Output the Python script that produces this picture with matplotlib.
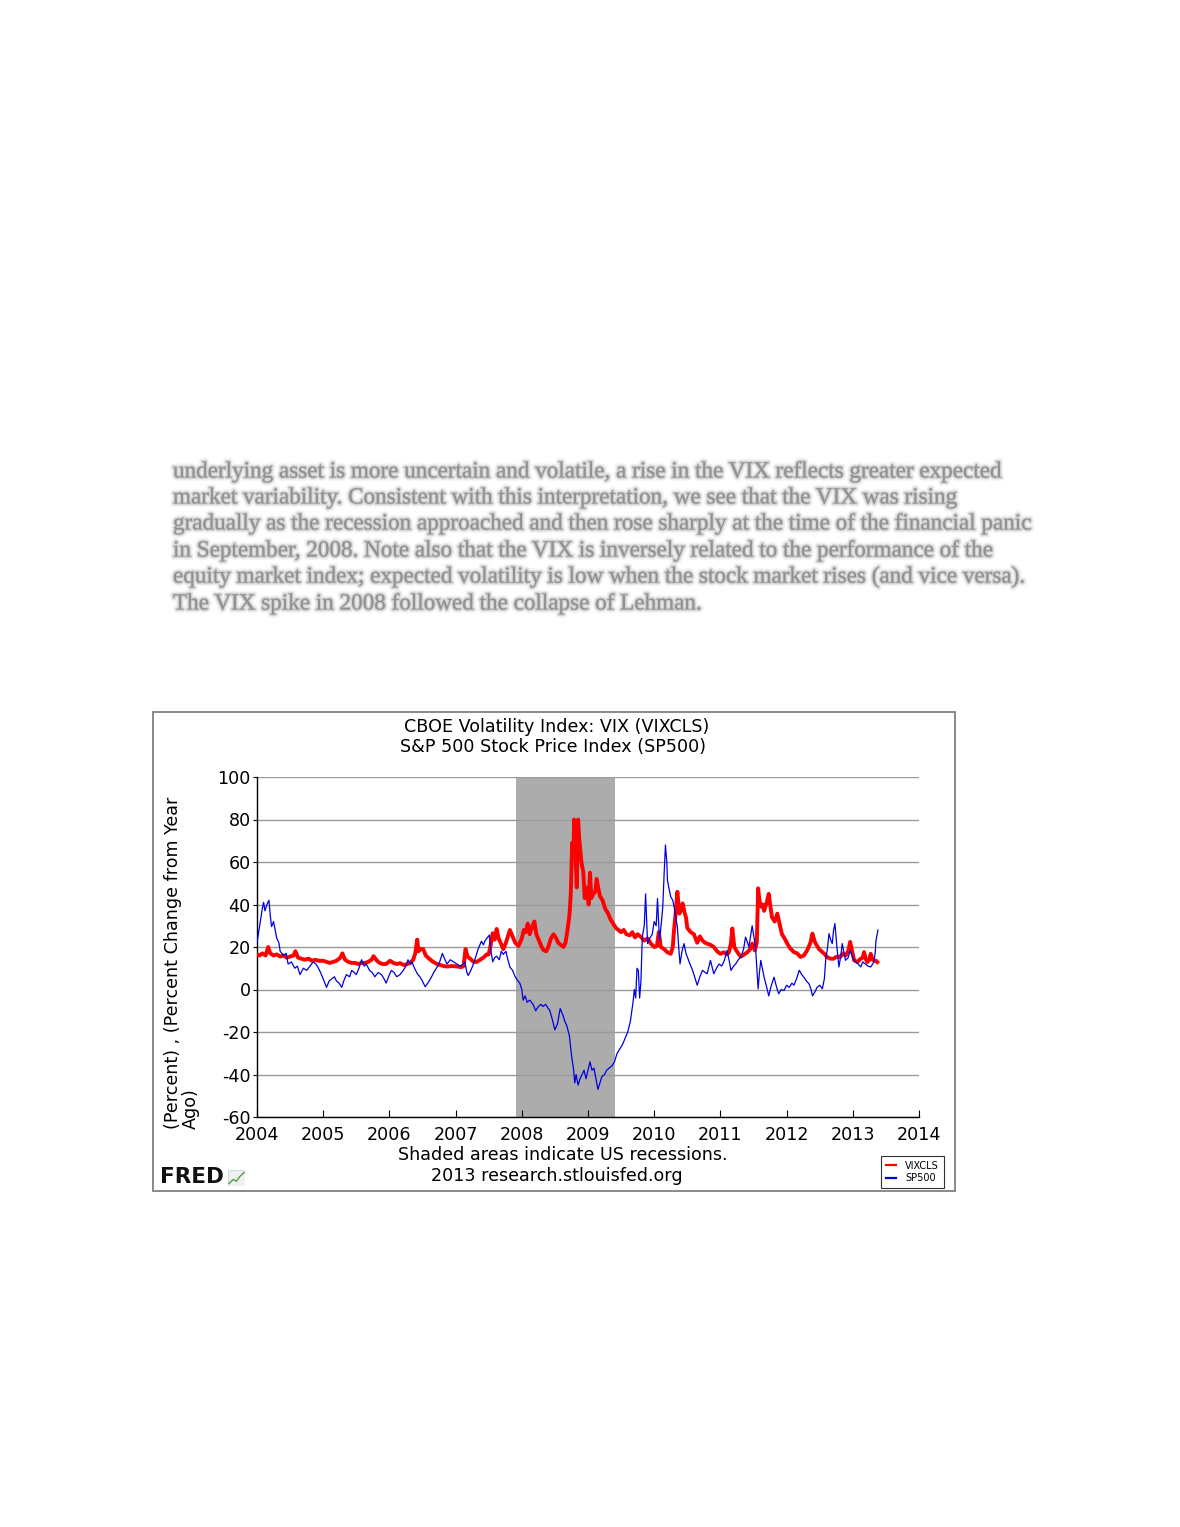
import matplotlib
matplotlib.use("Agg")
import matplotlib.pyplot as plt
import matplotlib.patheffects as pe
from matplotlib.patches import Rectangle

# ---------------- data ----------------
vix_t = [2004.00, 2004.04, 2004.08, 2004.13, 2004.17, 2004.20, 2004.25, 2004.30, 2004.35, 2004.40,
         2004.45, 2004.50, 2004.55, 2004.58, 2004.62, 2004.67, 2004.72, 2004.78, 2004.83, 2004.88,
         2004.94, 2005.00, 2005.05, 2005.10, 2005.15, 2005.20, 2005.26, 2005.29, 2005.33, 2005.38,
         2005.43, 2005.48, 2005.53, 2005.58, 2005.63, 2005.68, 2005.73, 2005.76, 2005.80, 2005.85,
         2005.90, 2005.95, 2006.01, 2006.06, 2006.11, 2006.16, 2006.22, 2006.27, 2006.31, 2006.36,
         2006.39, 2006.42, 2006.44, 2006.47, 2006.51, 2006.55, 2006.60, 2006.66, 2006.72, 2006.77,
         2006.82, 2006.88, 2006.93, 2006.98, 2007.03, 2007.08, 2007.12, 2007.15, 2007.18, 2007.22,
         2007.27, 2007.32, 2007.37, 2007.42, 2007.47, 2007.50, 2007.53, 2007.56, 2007.59, 2007.62,
         2007.65, 2007.68, 2007.72, 2007.76, 2007.79, 2007.82, 2007.86, 2007.90, 2007.95, 2008.00,
         2008.03, 2008.06, 2008.09, 2008.12, 2008.15, 2008.19, 2008.22, 2008.26, 2008.30, 2008.33,
         2008.37, 2008.40, 2008.44, 2008.48, 2008.52, 2008.55, 2008.59, 2008.63, 2008.66, 2008.69,
         2008.72, 2008.74, 2008.76, 2008.78, 2008.79, 2008.81, 2008.83, 2008.85, 2008.87, 2008.90,
         2008.93, 2008.95, 2008.98, 2009.01, 2009.03, 2009.05, 2009.08, 2009.11, 2009.13, 2009.16,
         2009.18, 2009.22, 2009.26, 2009.30, 2009.34, 2009.38, 2009.42, 2009.46, 2009.50, 2009.54,
         2009.58, 2009.63, 2009.67, 2009.71, 2009.75, 2009.80, 2009.85, 2009.90, 2009.95, 2010.00,
         2010.04, 2010.07, 2010.10, 2010.15, 2010.20, 2010.25, 2010.28, 2010.30, 2010.33, 2010.35,
         2010.38, 2010.41, 2010.43, 2010.46, 2010.48, 2010.50, 2010.55, 2010.60, 2010.65, 2010.69,
         2010.73, 2010.77, 2010.80, 2010.85, 2010.90, 2010.95, 2011.00, 2011.05, 2011.10, 2011.13,
         2011.16, 2011.18, 2011.21, 2011.24, 2011.28, 2011.31, 2011.36, 2011.41, 2011.45, 2011.48,
         2011.52, 2011.55, 2011.57, 2011.59, 2011.61, 2011.64, 2011.66, 2011.70, 2011.73, 2011.76,
         2011.78, 2011.82, 2011.86, 2011.90, 2011.93, 2011.97, 2012.01, 2012.05, 2012.11, 2012.16,
         2012.21, 2012.26, 2012.31, 2012.36, 2012.39, 2012.42, 2012.44, 2012.49, 2012.54, 2012.58,
         2012.61, 2012.66, 2012.71, 2012.76, 2012.81, 2012.85, 2012.89, 2012.93, 2012.96, 2012.99,
         2013.02, 2013.07, 2013.12, 2013.15, 2013.17, 2013.20, 2013.22, 2013.25, 2013.27, 2013.30,
         2013.32, 2013.35, 2013.37]
vix_v = [16.5, 16, 17, 16, 20, 17, 16, 16.5, 15.5, 16,
         15, 15.5, 16, 18, 15, 14.5, 14, 14.5, 13.5, 14,
         13.5, 13.5, 13, 12.5, 13, 13.5, 15, 17, 14, 13,
         12.5, 12.5, 12, 12.5, 12.5, 13, 14, 15.7, 14, 12.5,
         12, 12, 13.5, 12.5, 12, 12.4, 11.5, 12, 12.4, 14,
         17, 23.5, 18, 19, 19, 16, 14.5, 13, 12, 11.5,
         11, 10.8, 11, 11, 10.8, 10.5, 11, 19, 15.5, 14.5,
         13, 13, 14, 15, 16.5, 16.5, 21, 26.5, 23.5, 28.5,
         24, 22, 19, 22, 25, 28, 25, 22, 20.5, 24,
         28, 27, 31, 26, 29, 32, 26, 23, 20, 18.5,
         18, 20, 24, 26, 24, 22, 21, 20, 22, 28,
         35, 45, 69, 62, 80, 65, 48, 80, 70, 60,
         55, 43, 48, 40, 55, 43, 45, 46, 52, 47,
         44, 42, 38, 36, 33, 31, 29, 28, 27, 28,
         26, 25.5, 27, 24.5, 26, 24.7, 23, 24, 21.6, 20,
         20.5, 27, 20, 19, 17.5, 16.8, 20, 28, 38, 46,
         35.7, 38, 40.5, 36, 34, 29, 27, 26, 22, 25,
         23, 22, 21.6, 21, 20, 18, 16.8, 17.5, 16.5, 17.6,
         22, 28.7, 20, 18.4, 16.5, 15.5, 16.5, 17.6, 19, 21.6,
         18.4, 22, 47.6, 42, 39, 40, 37, 41, 45, 38,
         34, 32, 35.7, 30, 26, 24, 21.6, 19.5, 17.6, 17,
         15.3, 16, 18.4, 22, 26.3, 23, 21.6, 19, 17.6, 16.5,
         15.3, 14.5, 14.5, 15.5, 15.3, 17, 16, 18, 22.4, 18,
         13.7, 13, 14.5, 15, 17.6, 14, 12.9, 14, 16.8, 14,
         13.7, 13.5, 12.9]

sp_t = [2004.00, 2004.03, 2004.05, 2004.08, 2004.10, 2004.12, 2004.15, 2004.18, 2004.20, 2004.22,
        2004.25, 2004.28, 2004.30, 2004.33, 2004.35, 2004.40, 2004.44, 2004.47, 2004.52, 2004.57,
        2004.61, 2004.65, 2004.70, 2004.75, 2004.80, 2004.85, 2004.89, 2004.92, 2004.96, 2005.00,
        2005.05, 2005.09, 2005.13, 2005.17, 2005.20, 2005.24, 2005.28, 2005.31, 2005.35, 2005.40,
        2005.43, 2005.47, 2005.50, 2005.54, 2005.58, 2005.62, 2005.65, 2005.70, 2005.74, 2005.78,
        2005.83, 2005.88, 2005.92, 2005.95, 2006.00, 2006.03, 2006.07, 2006.11, 2006.16, 2006.21,
        2006.25, 2006.28, 2006.32, 2006.34, 2006.38, 2006.42, 2006.46, 2006.49, 2006.54, 2006.58,
        2006.62, 2006.67, 2006.72, 2006.76, 2006.80, 2006.84, 2006.87, 2006.92, 2006.97, 2007.02,
        2007.07, 2007.11, 2007.14, 2007.17, 2007.19, 2007.23, 2007.27, 2007.31, 2007.34, 2007.39,
        2007.42, 2007.44, 2007.47, 2007.51, 2007.53, 2007.56, 2007.59, 2007.62, 2007.66, 2007.69,
        2007.72, 2007.76, 2007.79, 2007.82, 2007.86, 2007.90, 2007.93, 2007.97, 2008.00, 2008.02,
        2008.05, 2008.08, 2008.12, 2008.17, 2008.21, 2008.25, 2008.29, 2008.32, 2008.36, 2008.40,
        2008.42, 2008.46, 2008.50, 2008.54, 2008.58, 2008.62, 2008.65, 2008.68, 2008.72, 2008.74,
        2008.76, 2008.78, 2008.80, 2008.82, 2008.85, 2008.88, 2008.91, 2008.94, 2008.97, 2009.00,
        2009.03, 2009.06, 2009.09, 2009.12, 2009.15, 2009.18, 2009.21, 2009.25, 2009.28, 2009.32,
        2009.36, 2009.40, 2009.44, 2009.48, 2009.52, 2009.56, 2009.60, 2009.64, 2009.68, 2009.70,
        2009.72, 2009.74, 2009.76, 2009.78, 2009.80, 2009.82, 2009.85, 2009.87, 2009.90, 2009.93,
        2009.97, 2010.00, 2010.03, 2010.05, 2010.08, 2010.11, 2010.13, 2010.15, 2010.17, 2010.19,
        2010.20, 2010.22, 2010.25, 2010.28, 2010.30, 2010.33, 2010.35, 2010.37, 2010.39, 2010.42,
        2010.45, 2010.48, 2010.50, 2010.54, 2010.58, 2010.62, 2010.65, 2010.69, 2010.73, 2010.77,
        2010.80, 2010.85, 2010.88, 2010.90, 2010.94, 2010.98, 2011.02, 2011.06, 2011.10, 2011.13,
        2011.16, 2011.20, 2011.23, 2011.27, 2011.31, 2011.35, 2011.38, 2011.41, 2011.43, 2011.46,
        2011.48, 2011.51, 2011.53, 2011.55, 2011.57, 2011.59, 2011.61, 2011.64, 2011.66, 2011.70,
        2011.73, 2011.77, 2011.81, 2011.85, 2011.88, 2011.92, 2011.96, 2012.00, 2012.04, 2012.08,
        2012.11, 2012.15, 2012.19, 2012.23, 2012.26, 2012.30, 2012.34, 2012.37, 2012.39, 2012.43,
        2012.46, 2012.50, 2012.54, 2012.57, 2012.59, 2012.62, 2012.64, 2012.67, 2012.69, 2012.71,
        2012.73, 2012.76, 2012.79, 2012.82, 2012.84, 2012.87, 2012.89, 2012.93, 2012.96, 2013.00,
        2013.04, 2013.08, 2013.12, 2013.15, 2013.19, 2013.23, 2013.27, 2013.30, 2013.32, 2013.34,
        2013.35, 2013.38]
sp_v = [22, 28, 32, 38, 41, 37, 40, 42, 35, 29.6,
        32, 27, 24, 22, 18, 16, 17, 12, 13, 10,
        11, 7, 10, 9, 11, 13, 12, 10.5, 8, 5,
        1, 4, 5, 6, 4, 3, 1, 4, 7, 6,
        9, 8, 7, 10, 14, 11, 12, 9, 8, 6,
        8, 7, 5, 3, 7, 9, 8, 6, 7, 9,
        11, 14, 12, 13, 10, 7.5, 6, 4.5, 1.3, 3,
        5, 8, 10.6, 13, 17, 14, 12, 14, 13, 12,
        11, 12, 13, 8, 6.6, 9, 12, 16, 19, 22.7,
        21, 22.7, 24, 25.6, 19, 13, 15, 15.7, 14, 18,
        16.5, 18, 14, 10.6, 9, 6, 4.5, 3, 0, -5,
        -3, -6, -5, -7, -10, -8, -7, -8, -7, -9,
        -9.6, -14, -19, -16, -9, -12, -15, -17, -22, -28,
        -33, -37, -44, -40, -45, -42, -40, -38, -42, -38,
        -34, -38, -37, -42, -47, -44, -41, -40, -38, -37,
        -36, -34, -30, -28, -26, -23, -20, -15, -6, 0,
        -4, 10, 9, -4, 4, 24.7, 30, 45, 21.6, 24,
        26, 32, 30, 42.8, 23, 32, 39, 54.6, 68, 60,
        51.5, 48, 43.6, 42, 39, 33, 29.4, 20, 12, 18,
        21.6, 17, 15.3, 12, 9, 5, 2, 6, 9, 8,
        7.4, 13.7, 10, 7.4, 10, 12, 11, 13.7, 18.4, 14,
        9, 11, 12, 14, 15.3, 19, 24.7, 22, 20, 26,
        30, 24, 20, 10, 0.3, 8, 13.7, 9, 5.8, 1,
        -3, 2, 5.8, 1, -2, 0, -0.5, 2, 1, 3,
        2, 5, 9, 7, 5.8, 4, 2.6, 0, -3, -1,
        1, 2, 0.3, 5, 13.7, 20, 26.3, 23, 21.6, 28,
        31, 20, 10.6, 16, 21.6, 17, 13.7, 15, 18.4, 15,
        13, 12, 10.6, 13, 12, 11, 10.6, 12, 13, 18,
        23, 28]

recession_start = 2007.917
recession_end = 2009.414

x_ticks = [2004, 2005, 2006, 2007, 2008, 2009, 2010, 2011, 2012, 2013, 2014]
y_ticks = [-60, -40, -20, 0, 20, 40, 60, 80, 100]

series_names = ["VIXCLS", "SP500"]
title_lines = ["CBOE Volatility Index: VIX (VIXCLS)", "S&P 500 Stock Price Index (SP500)"]
y_label = "(Percent) , (Percent Change from Year\nAgo)"
note_lines = ["Shaded areas indicate US recessions.", "2013 research.stlouisfed.org"]

paragraph = [
    "underlying asset is more uncertain and volatile, a rise in the VIX reflects greater expected",
    "market variability. Consistent with this interpretation, we see that the VIX was rising",
    "gradually as the recession approached and then rose sharply at the time of the financial panic",
    "in September, 2008. Note also that the VIX is inversely related to the performance of the",
    "equity market index; expected volatility is low when the stock market rises (and vice versa).",
    "The VIX spike in 2008 followed the collapse of Lehman.",
]

# ---------------- figure ----------------
W, H = 1180, 1527
fig = plt.figure(figsize=(W / 100, H / 100), dpi=100)
fig.patch.set_facecolor("white")

def fx(px):
    return px / W

def fy(py):
    return 1 - py / H

FS = 12.6

# blurred paragraph (real text, softened with translucent strokes)
blur = [pe.Stroke(linewidth=5, foreground="#a0a0a0", alpha=0.10),
        pe.Stroke(linewidth=3, foreground="#989898", alpha=0.18),
        pe.Stroke(linewidth=1.6, foreground="#909090", alpha=0.28),
        pe.Normal()]
para_y = [472, 498, 524, 551, 577, 604]
serif = ["Liberation Serif", "DejaVu Serif"]
fs = 16
probe = fig.text(fx(173), fy(524), paragraph[2], fontsize=fs, family=serif)
fig.canvas.draw()
w = probe.get_window_extent().width
probe.remove()
fs = fs * (1032 - 173) / w
for line, yy in zip(paragraph, para_y):
    fig.text(fx(173), fy(yy), line, fontsize=fs, family=serif,
             color="#8a8a8a", alpha=0.8, ha="left", va="center", path_effects=blur)

# chart frame
fig.patches.append(Rectangle((fx(153), fy(1191)), fx(955) - fx(153), fy(712) - fy(1191),
                             transform=fig.transFigure, fill=False,
                             edgecolor="#808080", linewidth=1.3))

# titles
fig.text(fx(557), fy(727), title_lines[0], fontsize=FS, ha="center", va="center")
fig.text(fx(553), fy(747), title_lines[1], fontsize=FS, ha="center", va="center")

# axes
ax = fig.add_axes([fx(257), fy(1117), fx(919) - fx(257), fy(777) - fy(1117)])
ax.axvspan(recession_start, recession_end, color="#acacac", zorder=0, linewidth=0)
l_vix, = ax.plot(vix_t, vix_v, color="#ff0000", linewidth=2.8, zorder=3, label=series_names[0])
l_sp, = ax.plot(sp_t, sp_v, color="#0000e0", linewidth=0.9, zorder=4, label=series_names[1])

ax.set_xlim(2004, 2014)
ax.set_ylim(-60, 100)
ax.set_xticks(x_ticks)
ax.set_yticks(y_ticks)
ax.set_xticklabels([str(t) for t in x_ticks])
ax.set_yticklabels([str(t) for t in y_ticks])
ax.yaxis.grid(True, color="#9a9a9a", linewidth=1.0)
for gl in ax.get_ygridlines():
    gl.set_zorder(1)
ax.spines["top"].set_visible(False)
ax.spines["right"].set_visible(False)
ax.spines["left"].set_linewidth(1.0)
ax.spines["bottom"].set_linewidth(1.0)
ax.tick_params(axis="x", direction="in", length=5, labelsize=FS, pad=6.5)
ax.tick_params(axis="y", direction="out", length=3, labelsize=FS, pad=1.5)
ax.set_facecolor("white")

# y label
fig.text(fx(182), fy(963), y_label, rotation=90, fontsize=FS, ha="center", va="center",
         multialignment="left", linespacing=1.0)

# notes
fig.text(fx(563), fy(1155), note_lines[0], fontsize=FS, ha="center", va="center")
fig.text(fx(557), fy(1176), note_lines[1], fontsize=FS, ha="center", va="center")

# FRED logo
fig.text(fx(160), fy(1177), "FRED", fontsize=15.5, fontweight="bold", ha="left", va="center",
         color="#111111")
icon = fig.add_axes([fx(228), fy(1186), fx(17), 16 / H])
icon.set_xlim(0, 1)
icon.set_ylim(0, 1)
icon.axis("off")
icon.add_patch(Rectangle((0, 0), 1, 1, facecolor="#eef2ee", edgecolor="#c8d0c8", linewidth=0.5))
icon.plot([0.05, 0.3, 0.5, 0.7, 0.95], [0.15, 0.4, 0.3, 0.6, 0.85], color="#4f9a4f", linewidth=1)

# legend
leg = fig.legend(handles=[l_vix, l_sp], labels=series_names, loc="center",
                 bbox_to_anchor=(fx(912.5), fy(1172)), fontsize=7, frameon=True,
                 fancybox=False, edgecolor="#000000", handlelength=1.0, handletextpad=1.0,
                 borderpad=0.5, borderaxespad=0, labelspacing=0.25)
leg.get_frame().set_linewidth(0.8)
for h in leg.legend_handles:
    h.set_linewidth(1.6)

fig.savefig("out.png", dpi=100, facecolor="white")
